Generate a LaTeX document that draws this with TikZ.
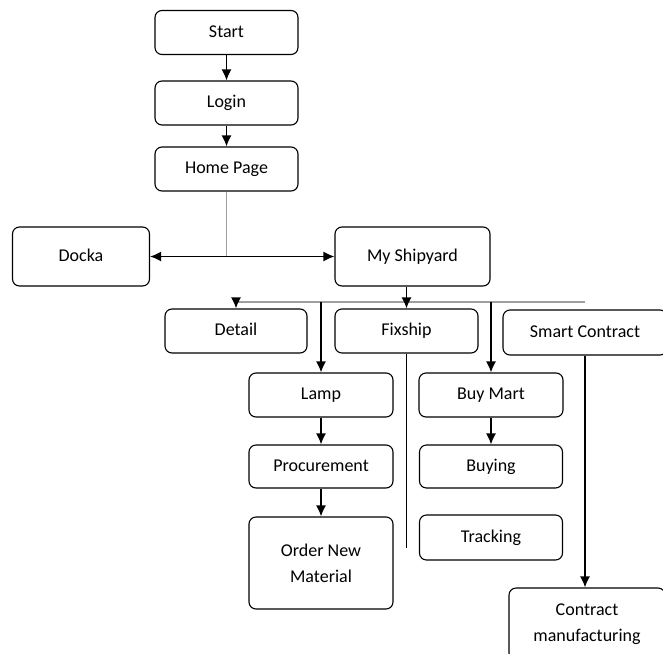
\documentclass[tikz,border=0pt]{standalone}
\usepackage{fontspec}
\setmainfont{Carlito}
\usepackage{tikz}
\usetikzlibrary{arrows.meta,calc,positioning}
\tikzset{>={Latex[length=11pt,width=10pt]}}
\tikzset{
  box/.style={draw, rounded corners=7pt, line width=1.1pt, align=center,
    font=\fontsize{18}{26}\selectfont, minimum width=143pt, minimum height=44pt,
    inner sep=2pt, text height=13pt, text depth=4pt},
  twoline/.style={text height={}, text depth={}},
  flow/.style={->, line width=1.5pt},
  trunk/.style={line width=1.5pt, draw=gray!75},
}

\begin{document}
\begin{tikzpicture}[x=1pt,y=-1pt]
      \useasboundingbox (0,0) rectangle (663,653);
      \clip (0,0) rectangle (663,653);
        \node[box] at (226.5,32.5) (start) {Start};
        \node[box] at (226.5,103) (login) {Login};
        \node[box] at (226.5,169) (home) {Home Page};
        \node[box, minimum width=137pt, minimum height=59pt] at (81,256.5) (docka) {Docka};
        \node[box, minimum width=155pt, minimum height=59pt] at (412.5,256.5) (shipyard) {My Shipyard};
        \node[box, minimum width=142pt] at (236,331) (detail) {Detail};
        \node[box] at (406.5,331) (fixship) {Fixship};
        \node[box, minimum width=164pt, minimum height=45pt] at (585,332.5) (smart) {Smart Contract};
        \node[box, minimum width=144pt] at (321,395) (lamp) {Lamp};
        \node[box, minimum width=144pt, minimum height=43pt] at (321,466.5) (procure) {Procurement};
        \node[box, twoline, minimum width=144pt, minimum height=92pt] at (321,563) (order) {Order New\\Material};
        \node[box, minimum width=144pt] at (491,395) (buymart) {Buy Mart};
        \node[box, minimum height=43pt] at (491,466.5) (buying) {Buying};
        \node[box, minimum height=45pt] at (491,537.5) (tracking) {Tracking};
        \node[box, twoline, minimum width=156pt, minimum height=72pt] at (587,624) (contract) {Contract\\manufacturing};
        \coordinate (busL) at (236,302);
        \coordinate (busR) at (585,302);
        \coordinate (fixend) at (406.5,548);
        \draw[flow] (start) -- (login);
        \draw[flow] (login) -- (home);
        \draw[trunk] (home.south) -- (home.south |- docka.east);
        \draw[<->, line width=1.5pt] (docka.east) -- (shipyard.west);
        \draw[trunk] (busL) -- (busR);
        \draw[flow] (fixship.north |- shipyard.south) -- (fixship.north);
        \draw[flow] (busL) -- (detail.north);
        \draw[flow] (lamp.north |- busL) -- (lamp.north);
        \draw[flow] (buymart.north |- busL) -- (buymart.north);
        \draw[flow] (lamp) -- (procure);
        \draw[flow] (procure) -- (order);
        \draw[flow] (buymart) -- (buying);
        \draw[line width=1.5pt] (fixship.south) -- (fixend);
        \draw[flow] (smart.south) -- (smart.south |- contract.north);
      \end{tikzpicture}
\end{document}
